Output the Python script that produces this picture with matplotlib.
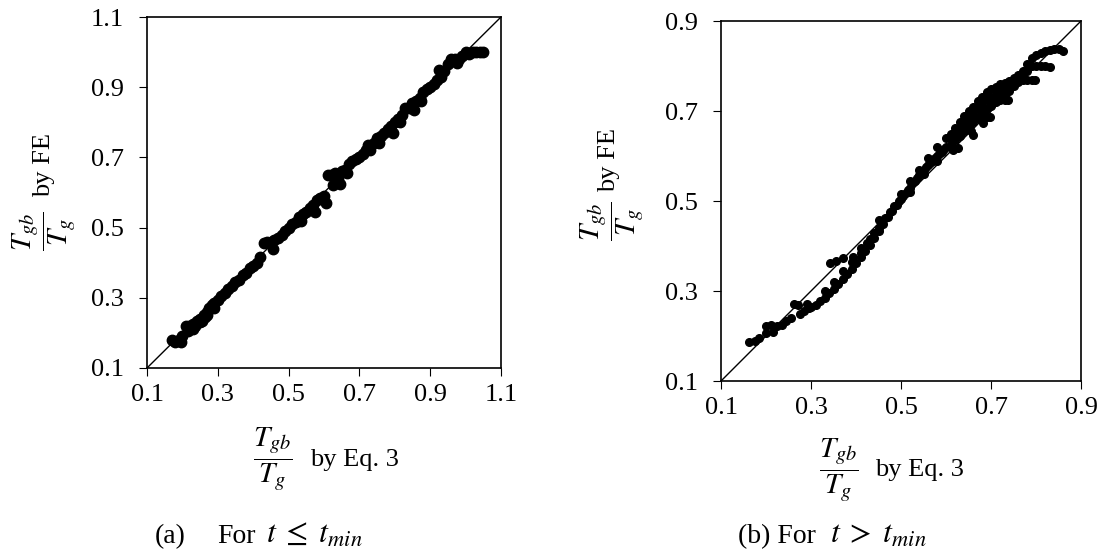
import matplotlib
matplotlib.use('Agg')
import matplotlib.pyplot as plt

plt.rcParams['font.family'] = ['Liberation Serif', 'DejaVu Serif']
plt.rcParams['mathtext.fontset'] = 'stix'

# (a) t <= t_min : Tgb/Tg by Eq. 3 vs by FE
eq3_a = [0.17, 0.18, 0.19, 0.195, 0.20, 0.21, 0.215, 0.22, 0.23, 0.235, 0.24, 0.25,
         0.255, 0.26, 0.265, 0.27, 0.275, 0.28, 0.285, 0.29, 0.30, 0.31, 0.32, 0.33,
         0.34, 0.35, 0.36, 0.37, 0.38, 0.39, 0.40, 0.41, 0.42, 0.43, 0.44, 0.45,
         0.455, 0.46, 0.47, 0.48, 0.49, 0.50, 0.51, 0.52, 0.53, 0.535, 0.54, 0.55,
         0.56, 0.57, 0.575, 0.58, 0.59, 0.60, 0.605, 0.61, 0.62, 0.625, 0.63, 0.64,
         0.645, 0.65, 0.66, 0.665, 0.67, 0.68, 0.69, 0.70, 0.71, 0.72, 0.725, 0.73,
         0.74, 0.75, 0.755, 0.76, 0.77, 0.78, 0.79, 0.795, 0.80, 0.81, 0.815, 0.82,
         0.83, 0.84, 0.85, 0.855, 0.86, 0.87, 0.875, 0.88, 0.89, 0.90, 0.91, 0.92,
         0.925, 0.93, 0.94, 0.95, 0.96, 0.97, 0.975, 0.98, 0.99, 1.00, 1.01, 1.02,
         1.03, 1.04, 1.05, 0.23, 0.25, 0.27, 0.29]
fe_a = [0.18, 0.175, 0.18, 0.175, 0.19, 0.22, 0.205, 0.22, 0.225, 0.22, 0.235, 0.24,
        0.235, 0.25, 0.245, 0.26, 0.27, 0.27, 0.28, 0.285, 0.295, 0.305, 0.315, 0.325,
        0.335, 0.345, 0.35, 0.365, 0.37, 0.385, 0.39, 0.40, 0.415, 0.455, 0.46, 0.46,
        0.44, 0.465, 0.47, 0.48, 0.49, 0.50, 0.51, 0.515, 0.53, 0.52, 0.54, 0.545,
        0.555, 0.565, 0.545, 0.58, 0.585, 0.59, 0.57, 0.65, 0.65, 0.62, 0.655, 0.64,
        0.625, 0.66, 0.665, 0.655, 0.68, 0.69, 0.695, 0.70, 0.71, 0.72, 0.735, 0.72,
        0.74, 0.755, 0.74, 0.76, 0.77, 0.78, 0.79, 0.77, 0.80, 0.81, 0.80, 0.82,
        0.84, 0.84, 0.855, 0.835, 0.86, 0.87, 0.86, 0.885, 0.895, 0.90, 0.91, 0.92,
        0.95, 0.93, 0.945, 0.965, 0.98, 0.98, 0.97, 0.98, 0.99, 1.00, 0.995, 1.00,
        1.00, 1.00, 1.00, 0.21, 0.23, 0.25, 0.27]

# (b) t > t_min
eq3_b = [0.163, 0.175, 0.185, 0.20, 0.20, 0.21, 0.215, 0.225, 0.235, 0.245, 0.255, 0.263,
         0.272, 0.275, 0.285, 0.29, 0.295,
         0.30, 0.31, 0.32, 0.33, 0.34, 0.35, 0.36, 0.37, 0.38, 0.39, 0.40, 0.41,
         0.42, 0.43, 0.44, 0.45,
         0.33, 0.35, 0.37, 0.39, 0.41, 0.43, 0.45,
         0.342, 0.356, 0.372, 0.394, 0.41, 0.424, 0.44, 0.45, 0.455,
         0.46, 0.465, 0.47, 0.475, 0.48, 0.485, 0.49, 0.495, 0.50, 0.505, 0.51, 0.515,
         0.52, 0.525, 0.53, 0.535, 0.54, 0.545, 0.55, 0.555, 0.56, 0.565, 0.57, 0.575,
         0.58, 0.585, 0.59, 0.595, 0.60,
         0.50, 0.52, 0.54, 0.56, 0.58, 0.60, 0.52, 0.55, 0.58,
         0.61, 0.62, 0.63, 0.64, 0.65, 0.66, 0.67, 0.68, 0.69, 0.70, 0.71, 0.72,
         0.73, 0.74, 0.75, 0.76, 0.77, 0.78, 0.79, 0.80, 0.81, 0.82, 0.83, 0.84,
         0.85, 0.86,
         0.61, 0.62, 0.63, 0.64, 0.65, 0.66, 0.67, 0.68, 0.69, 0.70, 0.71, 0.72,
         0.73, 0.74, 0.75, 0.76, 0.77,
         0.61, 0.62, 0.63, 0.64, 0.65, 0.66, 0.67, 0.68, 0.69, 0.70, 0.71, 0.72,
         0.73, 0.74, 0.75, 0.76, 0.77, 0.78,
         0.615, 0.627, 0.655, 0.66, 0.683, 0.68, 0.69, 0.698,
         0.70, 0.71, 0.72, 0.73, 0.738,
         0.75, 0.76, 0.77, 0.78, 0.79, 0.798,
         0.79, 0.80, 0.81, 0.82, 0.831]
fe_b = [0.186, 0.19, 0.196, 0.206, 0.222, 0.224, 0.21, 0.222, 0.225, 0.234, 0.24, 0.271,
        0.27, 0.25, 0.255, 0.272, 0.263,
        0.265, 0.27, 0.278, 0.285, 0.295, 0.305, 0.315, 0.326, 0.338, 0.35, 0.362, 0.375,
        0.389, 0.403, 0.418, 0.433,
        0.30, 0.32, 0.345, 0.365, 0.385, 0.415, 0.44,
        0.362, 0.366, 0.373, 0.376, 0.395, 0.406, 0.43, 0.458, 0.456,
        0.45, 0.462, 0.465, 0.475, 0.478, 0.488, 0.492, 0.50, 0.505, 0.512, 0.518, 0.525,
        0.53, 0.54, 0.545, 0.552, 0.558, 0.562, 0.57, 0.575, 0.58, 0.585, 0.59, 0.595,
        0.60, 0.605, 0.61, 0.615, 0.62,
        0.515, 0.545, 0.57, 0.595, 0.62, 0.64, 0.52, 0.56, 0.59,
        0.65, 0.663, 0.675, 0.688, 0.70, 0.71, 0.722, 0.732, 0.742, 0.748, 0.754, 0.759,
        0.763, 0.767, 0.773, 0.78, 0.788, 0.805, 0.818, 0.825, 0.83, 0.834, 0.836, 0.837,
        0.837, 0.834,
        0.638, 0.65, 0.661, 0.672, 0.683, 0.693, 0.704, 0.714, 0.724, 0.73, 0.737, 0.743,
        0.75, 0.757, 0.764, 0.773, 0.782,
        0.625, 0.635, 0.645, 0.655, 0.665, 0.675, 0.685, 0.695, 0.705, 0.712, 0.72, 0.727,
        0.735, 0.745, 0.755, 0.765, 0.775, 0.79,
        0.613, 0.618, 0.655, 0.647, 0.673, 0.687, 0.687, 0.687,
        0.72, 0.724, 0.724, 0.724, 0.724,
        0.765, 0.767, 0.768, 0.768, 0.769, 0.769,
        0.80, 0.80, 0.80, 0.799, 0.798]

ticks_a = [0.1, 0.3, 0.5, 0.7, 0.9, 1.1]
ticks_b = [0.1, 0.3, 0.5, 0.7, 0.9]

W, H = 1104, 554
fig = plt.figure(figsize=(W / 100, H / 100), dpi=100)
ax1 = fig.add_axes([147 / W, 1 - 368 / H, 354 / W, 351 / H])
ax2 = fig.add_axes([721 / W, 1 - 381 / H, 360 / W, 360 / H])

for ax, x, y, ticks, ms in [(ax1, eq3_a, fe_a, ticks_a, 7.5), (ax2, eq3_b, fe_b, ticks_b, 5.5)]:
    lo, hi = ticks[0], ticks[-1]
    ax.plot([lo, hi], [lo, hi], color='black', lw=1)
    ax.plot(x, y, 'o', color='black', ms=ms, mec='black')
    ax.set_xlim(lo, hi)
    ax.set_ylim(lo, hi)
    ax.set_xticks(ticks)
    ax.set_yticks(ticks)
    ax.set_xticklabels([f'{t:.1f}' for t in ticks])
    ax.set_yticklabels([f'{t:.1f}' for t in ticks])
    ax.tick_params(direction='out', length=5.5, labelsize=19)
    ax.tick_params(axis='x', pad=6)
    ax.tick_params(axis='y', pad=11)
    for s in ax.spines.values():
        s.set_linewidth(1.2)

frac = r'$\dfrac{T_{gb}}{T_g}$'


def px(x, y):
    return x / W, 1 - y / H


# x labels
fig.text(*px(272.5, 458.5), frac, fontsize=21, ha='center', va='center')
fig.text(*px(310, 466), 'by Eq. 3', fontsize=19, ha='left', va='baseline')
fig.text(*px(838.5, 470), frac, fontsize=21, ha='center', va='center')
fig.text(*px(875, 476), 'by Eq. 3', fontsize=19, ha='left', va='baseline')

# y labels
fig.text(*px(43.5, 231), frac, fontsize=21, ha='center', va='center', rotation=90)
fig.text(*px(50, 197), 'by FE', fontsize=19, ha='left', va='baseline',
         rotation=90, rotation_mode='anchor')
fig.text(*px(612, 221), frac, fontsize=21, ha='center', va='center', rotation=90)
fig.text(*px(615, 192), 'by FE', fontsize=19, ha='left', va='baseline',
         rotation=90, rotation_mode='anchor')

# captions
fig.text(*px(155, 543), '(a)', fontsize=20, ha='left', va='baseline')
fig.text(*px(217, 543), 'For', fontsize=20, ha='left', va='baseline')
fig.text(*px(266, 543), r'$t\;\leq\;t_{min}$', fontsize=23, ha='left', va='baseline')
fig.text(*px(738, 543), '(b) For', fontsize=20, ha='left', va='baseline')
fig.text(*px(830, 543), r'$t\;>\;t_{min}$', fontsize=23, ha='left', va='baseline')

fig.savefig('out.png', dpi=100)
